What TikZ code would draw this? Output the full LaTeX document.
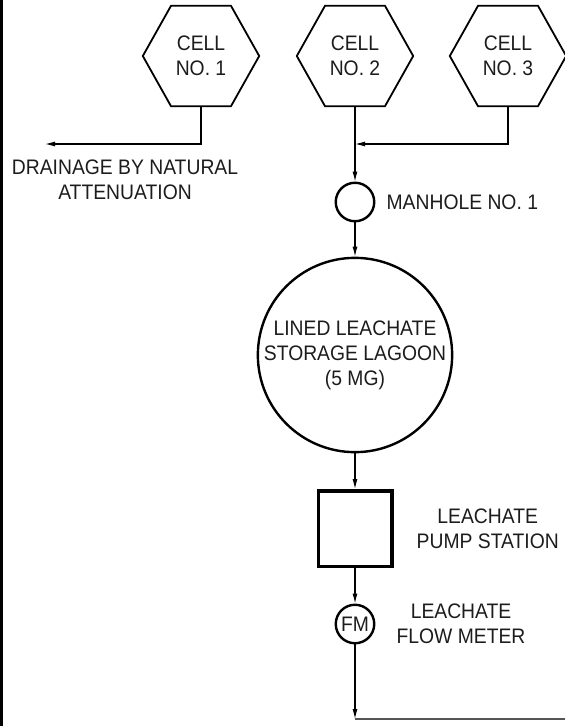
\documentclass[tikz,border=0pt]{standalone}
\usepackage{fontspec}
\setmainfont{Liberation Sans}[FakeStretch=0.92]
\usetikzlibrary{arrows.meta,calc,positioning}
\definecolor{ink}{HTML}{1C1C1C}
\definecolor{pipegray}{HTML}{555555}

\begin{document}
\begin{tikzpicture}[x=1pt,y=-1pt,
 every node/.style={font=\fontsize{21}{25}\selectfont,text=ink},
 cell/.style={minimum width=116pt,minimum height=100pt,align=center,inner sep=0pt},
 hexline/.style={line width=1.8pt},
 vessel/.style={draw,circle,line width=2.4pt,inner sep=0pt,align=center},
 arr/.style={-{Latex[length=10pt,width=5pt]},line width=1.1pt},
 note/.style={align=center,inner sep=1pt}
]
\useasboundingbox (0,0) rectangle (565,726);
\fill[black] (0,0) rectangle (3,726);
% landfill cells
\node[cell] (c1) at (201,56) {CELL\\NO. 1};
\node[cell] (c2) at (355,56) {CELL\\NO. 2};
\node[cell] (c3) at (508,56) {CELL\\NO. 3};
\draw[hexline] (c1.west) -- ($(c1.north)+(-30,0)$) -- ($(c1.north)+(30,0)$) -- (c1.east)
 -- ($(c1.south)+(30,0)$) -- ($(c1.south)+(-30,0)$) -- cycle;
\draw[hexline] (c2.west) -- ($(c2.north)+(-30,0)$) -- ($(c2.north)+(30,0)$) -- (c2.east)
 -- ($(c2.south)+(30,0)$) -- ($(c2.south)+(-30,0)$) -- cycle;
\draw[hexline] (c3.west) -- ($(c3.north)+(-30,0)$) -- ($(c3.north)+(30,0)$) -- (c3.east)
 -- ($(c3.south)+(30,0)$) -- ($(c3.south)+(-30,0)$) -- cycle;
% collection line
\node[vessel,minimum size=38.5pt] (mh) at (355,202) {};
\node[vessel,minimum size=191pt] (lagoon) at (355,355) {LINED LEACHATE\\STORAGE LAGOON\\(5 MG)};
\node[draw,line width=3.5pt,minimum width=73.5pt,minimum height=75.5pt] (ps) at (355,528.5) {};
\node[vessel,minimum size=38.5pt] (fm) at (355,624) {FM};
\node[note,right=10pt of mh] (mhlabel) {MANHOLE NO. 1};
\node[note,right=22pt of ps] (pslabel) {LEACHATE\\PUMP STATION};
\node[note,right=20pt of fm] (fmlabel) {LEACHATE\\FLOW METER};
\node[note] (drainlabel) at (125,180) {DRAINAGE BY NATURAL\\ATTENUATION};
\coordinate (drain) at (45,144);
\coordinate (join) at (355,144);
\coordinate (out) at (355,719);
\coordinate (outend) at (565,719);
\draw[arr] (c1.south) |- (drain);
\draw[arr] (c2.south) -- (mh.north);
\draw[arr] (c3.south) |- (join);
\draw[arr] (mh.south) -- (lagoon.north);
\draw[arr] (lagoon.south) -- (ps.north);
\draw[arr] (ps.south) -- (fm.north);
\draw[arr] (fm.south) -- (out);
\draw[pipegray,line width=2pt] (out) -- (outend);
\end{tikzpicture}
\end{document}
